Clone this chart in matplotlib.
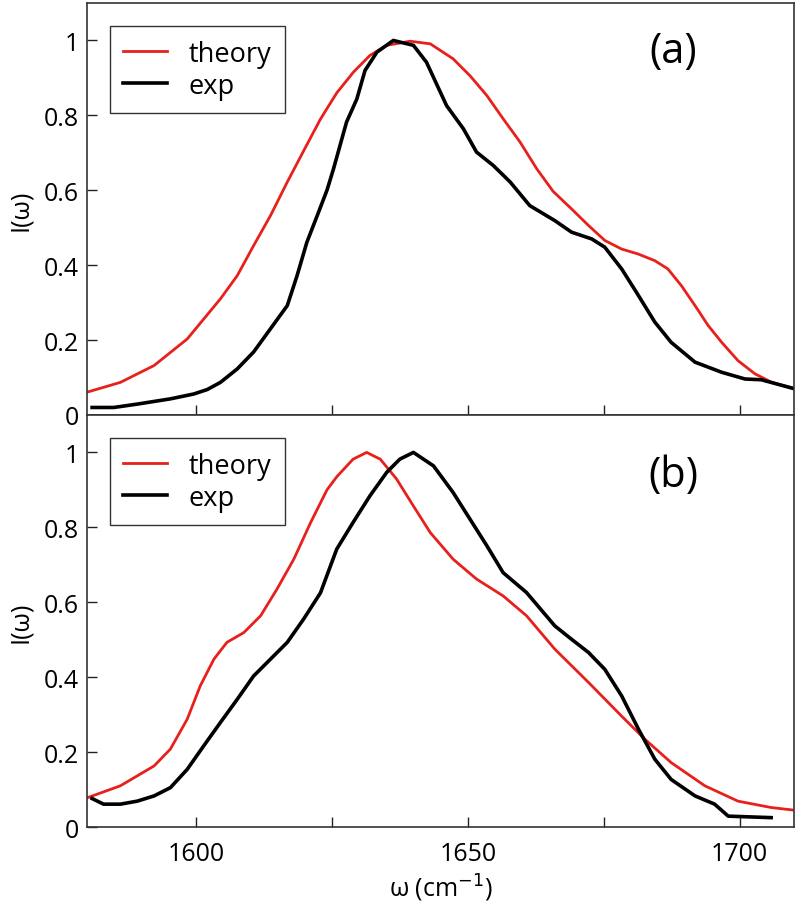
import matplotlib
matplotlib.use("Agg")
import matplotlib.pyplot as plt

plt.rcParams['font.family'] = ['Open Sans', 'DejaVu Sans']

# panel (a)
theory_a_x = [1580, 1586.1, 1592.3, 1598.4, 1604.5, 1607.6, 1610.6, 1613.7, 1616.8,
              1619.8, 1622.9, 1625.9, 1629.0, 1632.0, 1635.1, 1639.4, 1643.1, 1647.3,
              1650.4, 1653.5, 1656.5, 1659.6, 1662.7, 1665.7, 1669.1, 1672.2, 1675.2,
              1678.3, 1681.3, 1684.4, 1686.8, 1689.3, 1691.8, 1694.2, 1696.7, 1699.7,
              1702.8, 1705.9, 1710]
theory_a_y = [0.061, 0.087, 0.132, 0.203, 0.31, 0.372, 0.452, 0.532, 0.622,
              0.705, 0.79, 0.86, 0.916, 0.96, 0.987, 0.998, 0.991, 0.951,
              0.906, 0.853, 0.791, 0.729, 0.657, 0.597, 0.55, 0.506, 0.466,
              0.443, 0.43, 0.412, 0.39, 0.345, 0.292, 0.239, 0.194, 0.145,
              0.11, 0.087, 0.071]
exp_a_x = [1580.9, 1584.9, 1589.2, 1595.3, 1599.6, 1602.1, 1604.5, 1607.6, 1610.6,
           1613.7, 1616.8, 1618.6, 1620.4, 1622.3, 1624.1, 1625.3, 1627.7, 1629.6,
           1631.1, 1633.3, 1636.3, 1640.0, 1642.4, 1646.1, 1649.2, 1651.6, 1654.7,
           1657.8, 1661.4, 1666.0, 1669.1, 1672.8, 1675.2, 1678.3, 1681.0, 1684.4,
           1687.4, 1691.8, 1696.7, 1701.0, 1704.0, 1709.8]
exp_a_y = [0.02, 0.02, 0.029, 0.043, 0.056, 0.068, 0.087, 0.123, 0.168,
           0.23, 0.292, 0.372, 0.461, 0.532, 0.6, 0.657, 0.782, 0.844,
           0.92, 0.969, 1.0, 0.987, 0.942, 0.826, 0.764, 0.702, 0.666,
           0.622, 0.559, 0.519, 0.488, 0.47, 0.448, 0.39, 0.328, 0.248,
           0.194, 0.141, 0.114, 0.096, 0.094, 0.071]

# panel (b)
theory_b_x = [1580, 1586.1, 1592.3, 1595.3, 1598.4, 1600.8, 1603.3, 1605.7, 1608.8,
              1611.9, 1614.9, 1618.0, 1621.1, 1624.1, 1625.9, 1628.9, 1631.4, 1633.9,
              1636.9, 1640.0, 1643.1, 1647.3, 1651.6, 1656.5, 1660.8, 1666.0, 1672.2,
              1678.3, 1682.6, 1687.4, 1693.6, 1699.7, 1705.8, 1710]
theory_b_y = [0.078, 0.11, 0.163, 0.208, 0.288, 0.377, 0.448, 0.493, 0.519,
              0.564, 0.635, 0.715, 0.813, 0.9, 0.935, 0.982, 1.0, 0.982,
              0.929, 0.857, 0.786, 0.715, 0.662, 0.617, 0.564, 0.475, 0.386,
              0.296, 0.234, 0.172, 0.11, 0.069, 0.052, 0.045]
exp_b_x = [1580.9, 1583.0, 1586.1, 1589.2, 1592.3, 1595.3, 1598.4, 1601.4, 1604.5,
           1607.6, 1610.6, 1613.7, 1616.8, 1619.8, 1622.9, 1625.9, 1628.9, 1632.0,
           1635.1, 1637.5, 1640.0, 1643.7, 1647.3, 1650.4, 1653.5, 1656.5, 1660.8,
           1666.0, 1669.1, 1672.2, 1675.2, 1678.3, 1681.4, 1684.4, 1687.4, 1691.8,
           1695.4, 1697.9, 1705.8]
exp_b_y = [0.076, 0.061, 0.061, 0.069, 0.083, 0.105, 0.154, 0.216, 0.279,
           0.341, 0.403, 0.448, 0.493, 0.555, 0.625, 0.742, 0.813, 0.884,
           0.947, 0.982, 1.0, 0.964, 0.893, 0.822, 0.751, 0.679, 0.626,
           0.537, 0.501, 0.466, 0.421, 0.35, 0.261, 0.181, 0.127, 0.083,
           0.061, 0.029, 0.025]

x_ticks = [1600, 1625, 1650, 1675, 1700]
x_tick_labels = ['1600', '', '1650', '', '1700']
y_ticks = [0, 0.2, 0.4, 0.6, 0.8, 1.0]
y_tick_labels = ['0', '0.2', '0.4', '0.6', '0.8', '1']

RED = '#e8201c'

fig = plt.figure(figsize=(8, 9.12), dpi=100)
ax1 = fig.add_axes([0.109, 0.5439, 0.8835, 0.4517])
ax2 = fig.add_axes([0.109, 0.0921, 0.8835, 0.4518])

panels = [(ax1, theory_a_x, theory_a_y, exp_a_x, exp_a_y, '(a)', 0.883),
          (ax2, theory_b_x, theory_b_y, exp_b_x, exp_b_y, '(b)', 0.855)]

for ax, tx, ty, ex, ey, tag, tag_y in panels:
    ax.plot(tx, ty, color=RED, linewidth=2.0, label='theory')
    ax.plot(ex, ey, color='black', linewidth=2.6, label='exp')
    ax.set_xlim(1580, 1710)
    ax.set_ylim(0, 1.1)
    ax.set_xticks(x_ticks)
    ax.set_yticks(y_ticks)
    ax.set_yticklabels(y_tick_labels)
    ax.tick_params(direction='in', length=7, width=1, labelsize=18, pad=6,
                   color='#222222')
    for s in ax.spines.values():
        s.set_color('#333333')
        s.set_linewidth(1.2)
    ax.set_ylabel('I(ω)', fontsize=18, labelpad=8)
    ax.text(0.829, tag_y, tag, transform=ax.transAxes, fontsize=30,
            ha='center', va='center')
    leg = ax.legend(loc='upper left', bbox_to_anchor=(0.032, 0.944),
                    borderaxespad=0, fontsize=19.5, fancybox=False,
                    edgecolor='black', handlelength=1.6, handletextpad=0.8,
                    labelspacing=0.15, borderpad=0.5)
    leg.get_frame().set_linewidth(1.0)

ax1.set_xticklabels([])
ax2.set_xticklabels(x_tick_labels)
ax2.tick_params(axis='x', pad=10)
ax2.set_xlabel('ω (cm$^{-1}$)', fontsize=18, labelpad=4)

fig.savefig('out.png', dpi=100)
